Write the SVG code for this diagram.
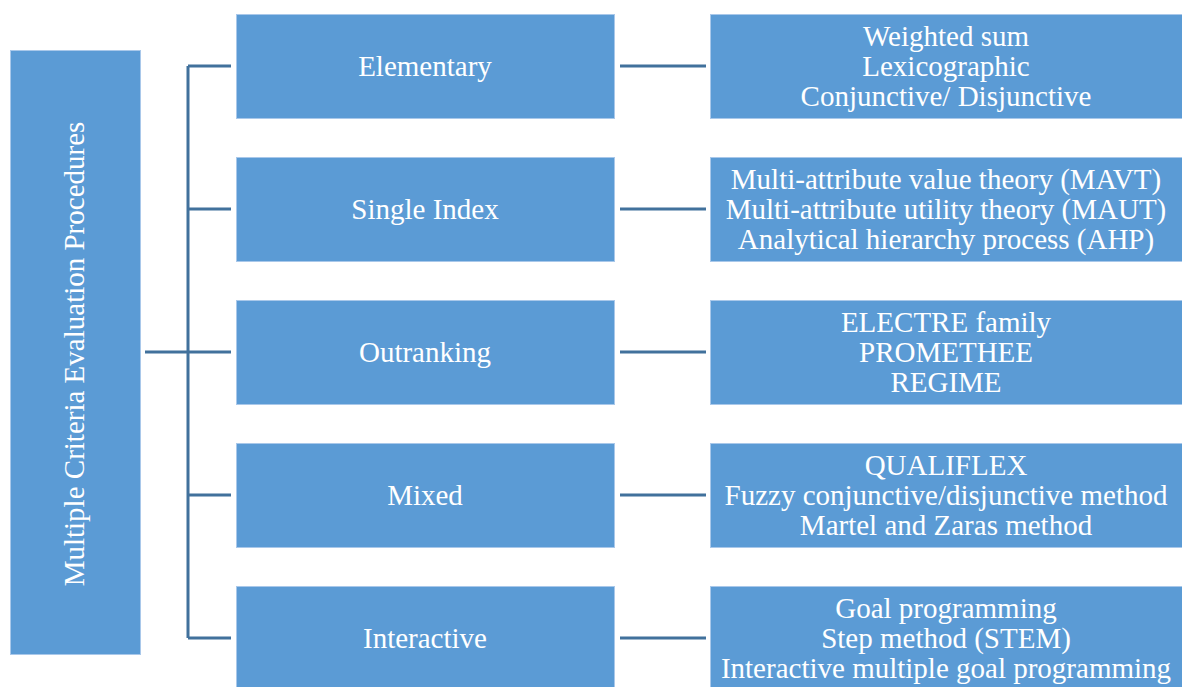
<svg xmlns="http://www.w3.org/2000/svg" width="1182" height="687" viewBox="0 0 1182 687">
<style>
.box{fill:#5B9BD5;stroke:#A9C8EA;stroke-width:1}
.t{font-family:"Liberation Serif","Times New Roman",serif;font-size:29px;fill:#FFFFFF;text-anchor:middle}
.c{fill:none;stroke:#41719C;stroke-width:3}
</style>
<rect width="1182" height="687" fill="#FFFFFF"/>
<g id="connectors">
<path class="c" d="M145 352H188M188 66V638M188 66H231M188 209H231M188 352H231M188 495H231M188 638H231"/>
<path class="c" d="M620 66H706M620 209H706M620 352H706M620 495H706M620 638H706"/>
</g>
<g id="root">
<rect class="box" x="10.5" y="50.5" width="130" height="604"/>
<text class="t" transform="translate(84,354) rotate(-90)">Multiple Criteria Evaluation Procedures</text>
</g>
<g id="elementary">
<rect class="box" x="236.5" y="14.5" width="378" height="104"/>
<text class="t" x="425" y="76">Elementary</text>
</g>
<g id="single-index">
<rect class="box" x="236.5" y="157.5" width="378" height="104"/>
<text class="t" x="425" y="219">Single Index</text>
</g>
<g id="outranking">
<rect class="box" x="236.5" y="300.5" width="378" height="104"/>
<text class="t" x="425" y="362">Outranking</text>
</g>
<g id="mixed">
<rect class="box" x="236.5" y="443.5" width="378" height="104"/>
<text class="t" x="425" y="505">Mixed</text>
</g>
<g id="interactive">
<rect class="box" x="236.5" y="586.5" width="378" height="104"/>
<text class="t" x="425" y="648">Interactive</text>
</g>
<g id="elementary-methods">
<rect class="box" x="710.5" y="14.5" width="474" height="104"/>
<text class="t" x="946" y="46">Weighted sum</text>
<text class="t" x="946" y="76">Lexicographic</text>
<text class="t" x="946" y="106">Conjunctive/ Disjunctive</text>
</g>
<g id="single-index-methods">
<rect class="box" x="710.5" y="157.5" width="474" height="104"/>
<text class="t" x="946" y="189">Multi-attribute value theory (MAVT)</text>
<text class="t" x="946" y="219">Multi-attribute utility theory (MAUT)</text>
<text class="t" x="946" y="249">Analytical hierarchy process (AHP)</text>
</g>
<g id="outranking-methods">
<rect class="box" x="710.5" y="300.5" width="474" height="104"/>
<text class="t" x="946" y="332">ELECTRE family</text>
<text class="t" x="946" y="362">PROMETHEE</text>
<text class="t" x="946" y="392">REGIME</text>
</g>
<g id="mixed-methods">
<rect class="box" x="710.5" y="443.5" width="474" height="104"/>
<text class="t" x="946" y="475">QUALIFLEX</text>
<text class="t" x="946" y="505">Fuzzy conjunctive/disjunctive method</text>
<text class="t" x="946" y="535">Martel and Zaras method</text>
</g>
<g id="interactive-methods">
<rect class="box" x="710.5" y="586.5" width="474" height="104"/>
<text class="t" x="946" y="618">Goal programming</text>
<text class="t" x="946" y="648">Step method (STEM)</text>
<text class="t" x="946" y="678">Interactive multiple goal programming</text>
</g>
</svg>
